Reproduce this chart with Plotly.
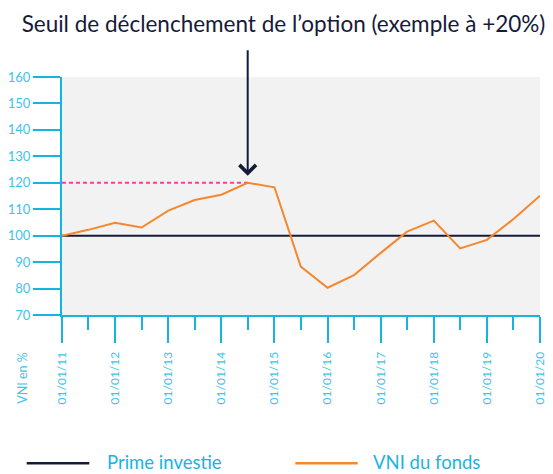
import plotly.graph_objects as go

# ---- data ----
dates = ["2011-01-01", "2011-07-01", "2012-01-01", "2012-07-01", "2013-01-01",
         "2013-07-01", "2014-01-01", "2014-07-01", "2015-01-01", "2015-07-01",
         "2016-01-01", "2016-07-01", "2017-01-01", "2017-07-01", "2018-01-01",
         "2018-07-01", "2019-01-01", "2019-07-01", "2020-01-01"]
vni_fonds = [100, 102.2, 104.9, 103.1, 109.5, 113.5, 115.5, 120, 118.3, 88.3,
             80.3, 85.1, 93.5, 101.5, 105.7, 95.2, 98.4, 106.2, 115.1]
prime_dates = ["2011-01-01", "2020-01-01"]
prime_investie = [100, 100]
seuil_dates = ["2011-01-01", "2014-07-01"]
seuil = [120, 120]
trigger_date = "2014-07-01"
trigger_value = 120

title_text = "Seuil de déclenchement de l’option (exemple à +20%)"
legend_names = ["Prime investie", "VNI du fonds"]
y_title = "VNI en %"

# ---- style ----
NAVY = "#161a3a"
ORANGE = "#f5872c"
PINK = "#ff3d8c"
AXIS = "#17b4e0"
LABEL = "#3ec3ec"
LEGTXT = "#1cb2e2"
FONT = "Lato"

# the page body has an 8px margin: lay the figure out 8px up/left
W, H = 545, 466
PL, PT, PW, PH = 54, 69, 478, 238          # plot area (figure px)
OFF = 8


def px(xr):   # reference page x -> paper x
    return (xr - OFF - PL) / PW


def py(yr):   # reference page y -> paper y
    return (PT + PH - (yr - OFF)) / PH


fig = go.Figure()
fig.add_trace(go.Scatter(x=seuil_dates, y=seuil, mode="lines",
                         line=dict(color=PINK, width=2, dash="4px,3px"),
                         showlegend=False, hoverinfo="skip"))
fig.add_trace(go.Scatter(x=prime_dates, y=prime_investie, mode="lines",
                         line=dict(color=NAVY, width=2), name=legend_names[0],
                         showlegend=False))
fig.add_trace(go.Scatter(x=dates, y=vni_fonds, mode="lines",
                         line=dict(color=ORANGE, width=2), name=legend_names[1],
                         showlegend=False))

fig.update_layout(
    width=W, height=H,
    margin=dict(l=PL, r=W - PL - PW, t=PT, b=H - PT - PH, autoexpand=False),
    paper_bgcolor="white", plot_bgcolor="#f2f2f2",
    font=dict(family=FONT, color=LABEL),
    title=dict(text=title_text, x=(283.5 - OFF) / W, xanchor="center",
               y=1 - (24 - OFF) / H, yanchor="middle", yref="container",
               font=dict(family=FONT, size=22.5, color=NAVY)),
    showlegend=False,
)

fig.update_xaxes(
    type="date", range=["2011-01-01", "2020-01-01"], automargin=False,
    dtick="M12", tick0="2011-01-01", tickformat="%d/%m/%y", tickangle=-90,
    ticks="outside", ticklen=26, tickwidth=2, tickcolor=AXIS,
    ticklabelstandoff=4,
    minor=dict(dtick="M6", ticks="outside", ticklen=13, tickwidth=2, tickcolor=AXIS),
    showline=True, linecolor=AXIS, linewidth=2,
    showgrid=False, zeroline=False,
    tickfont=dict(family=FONT, size=12, color=LABEL),
)
fig.update_yaxes(
    range=[70, 160], dtick=10, tick0=70, automargin=False,
    ticks="outside", ticklen=27, tickwidth=2, tickcolor=AXIS,
    showline=True, linecolor=AXIS, linewidth=2,
    showgrid=False, zeroline=False,
    tickfont=dict(family=FONT, size=13, color=LABEL),
)

# arrow pointing to the trigger level
fig.add_annotation(x=trigger_date, y=trigger_value, text="", showarrow=True,
                   ax=0, ay=-134, standoff=7, arrowhead=4, arrowsize=1.6,
                   arrowwidth=2, arrowcolor=NAVY)

# y title at bottom left
fig.add_annotation(xref="paper", yref="paper", x=px(21.7), y=py(378),
                   xanchor="center", yanchor="middle",
                   text=y_title, textangle=-90, showarrow=False,
                   font=dict(family=FONT, size=12.5, color=LABEL))

# manual legend
ly = py(461.5)
for (x0, x1, tx, color, name) in [
    (26.7, 89.3, 106.7, NAVY, legend_names[0]),
    (295.3, 357.7, 372.7, ORANGE, legend_names[1]),
]:
    fig.add_shape(type="line", xref="paper", yref="paper",
                  x0=px(x0), x1=px(x1), y0=py(463.3), y1=py(463.3),
                  line=dict(color=color, width=2.5))
    fig.add_annotation(xref="paper", yref="paper", x=px(tx), y=ly,
                       xanchor="left", yanchor="middle", text=name, showarrow=False,
                       xshift=-2,
                       font=dict(family=FONT, size=18.5, color=LEGTXT))

fig.write_html("out.html")
